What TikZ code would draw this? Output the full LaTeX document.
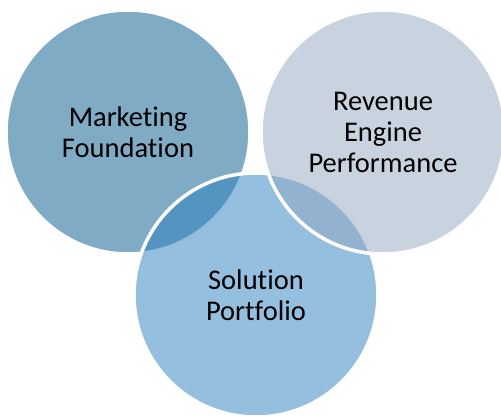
\documentclass[tikz,border=0pt]{standalone}
\usepackage{fontspec}
\setmainfont{Carlito}[Ligatures=NoCommon]
\usetikzlibrary{positioning}
\definecolor{venn1}{RGB}{0,87,137}
\definecolor{venn2}{RGB}{41,127,191}
\definecolor{venn3}{RGB}{147,167,191}

\begin{document}
\begin{tikzpicture}[x=1pt,y=1pt,
  bubble/.style={circle,draw=white,line width=3.5pt,minimum size=244pt,inner sep=0pt,
    fill opacity=0.5,text opacity=1,align=center,font=\fontsize{28.5}{31}\selectfont}]
   \useasboundingbox (0,0) rectangle (501,417);
   \node[bubble,fill=venn1] (mf)  at (128,285) {Marketing\\Foundation};
   \node[bubble,fill=venn2] (sp)  at (256,122) {Solution\\Portfolio};
   \node[bubble,fill=venn3] (rep) at (383,285) {Revenue\\Engine\\Performance};
\end{tikzpicture}
\end{document}
